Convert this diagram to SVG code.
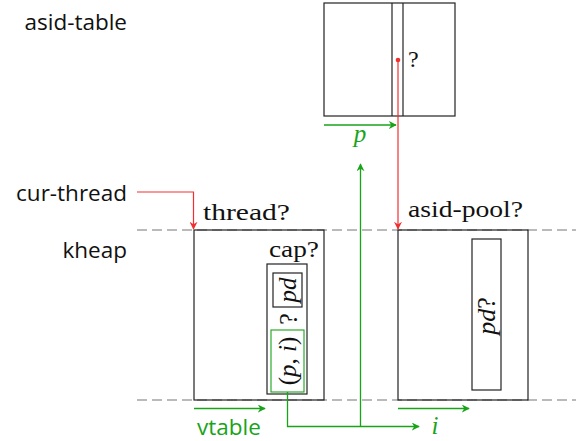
<svg xmlns="http://www.w3.org/2000/svg" width="581" height="441" viewBox="0 0 581 441">
<defs>
<style>
.box{fill:none;stroke:#222;stroke-width:1.2}
.dash{stroke:#777;stroke-width:1.2;stroke-dasharray:10 5;fill:none}
.g{stroke:#19a319;stroke-width:1.3;fill:none}
.r{stroke:#f03030;stroke-width:1.2;fill:none}
.sans{font-family:"Open Sans","Liberation Sans",sans-serif;font-size:22.5px;fill:#111}
.serif{font-family:"Liberation Serif",serif;font-size:24px;fill:#111}
.math{font-family:"Liberation Serif",serif;font-style:italic;font-size:25px}
</style>
<marker id="ag" viewBox="0 0 10 10" refX="9" refY="5" markerWidth="8" markerHeight="8" markerUnits="userSpaceOnUse" orient="auto">
<path d="M0,0 L10,5 L0,10 L3,5 Z" fill="#19a319"/>
</marker>
<marker id="ar" viewBox="0 0 10 10" refX="9" refY="5" markerWidth="8" markerHeight="8" markerUnits="userSpaceOnUse" orient="auto">
<path d="M0,0 L10,5 L0,10 L3,5 Z" fill="#f03030"/>
</marker>
</defs>

<g id="labels">
<text class="sans" x="127" y="30" text-anchor="end">asid-table</text>
<text class="sans" x="127" y="201" text-anchor="end">cur-thread</text>
<text class="sans" x="127" y="258" text-anchor="end">kheap</text>
</g>

<g id="guides">
<line class="dash" x1="137" y1="230" x2="576" y2="230"/>
<line class="dash" x1="137" y1="400" x2="576" y2="400"/>
</g>

<g id="asid-table">
<rect class="box" x="324" y="3" width="131" height="113"/>
<line class="box" x1="392" y1="3" x2="392" y2="116"/>
<line class="box" x1="403" y1="3" x2="403" y2="116"/>
<text class="serif" x="408" y="67">?</text>
</g>

<g id="thread">
<rect class="box" x="194" y="230" width="130" height="170"/>
<text class="serif" x="203" y="220" textLength="87" lengthAdjust="spacingAndGlyphs">thread?</text>
<text class="serif" x="269" y="257" textLength="50" lengthAdjust="spacingAndGlyphs">cap?</text>
<g id="cap">
<rect class="box" x="267" y="264" width="40" height="130"/>
<rect class="box" x="273" y="273" width="29" height="34" stroke-width="1"/>
<text class="math" transform="translate(296,290) rotate(-90)" text-anchor="middle" fill="#111">pd</text>
<text class="serif" transform="translate(297,319) rotate(-90)" text-anchor="middle" style="font-size:26px">?</text>
<rect x="271" y="330" width="33" height="62" fill="none" stroke="#19a319" stroke-width="1.1"/>
<text transform="translate(296,361) rotate(-90)" text-anchor="middle" style="font-family:'Liberation Serif',serif;font-size:25px;fill:#111"><tspan>(</tspan><tspan font-style="italic">p</tspan><tspan>, </tspan><tspan font-style="italic">i</tspan><tspan>)</tspan></text>
</g>
</g>

<g id="asid-pool">
<rect class="box" x="398" y="230" width="130" height="170"/>
<text class="serif" x="408" y="217" textLength="115" lengthAdjust="spacingAndGlyphs">asid-pool?</text>
<rect class="box" x="472" y="239" width="29" height="151" stroke-width="1"/>
<text transform="translate(495,316) rotate(-90)" text-anchor="middle" style="font-family:'Liberation Serif',serif;font-size:26px;fill:#111"><tspan font-style="italic">pd</tspan>?</text>
</g>

<g id="connectors">
<polyline class="r" points="137,192 193.5,192 193.5,229" marker-end="url(#ar)"/>
<line class="r" x1="398" y1="60" x2="398" y2="229" marker-end="url(#ar)"/>
<circle cx="398" cy="60" r="2.3" fill="#f03030"/>
<line class="g" x1="324" y1="125" x2="396" y2="125" marker-end="url(#ag)"/>
<text x="360" y="142" text-anchor="middle" style="font-family:'Liberation Serif',serif;font-style:italic;font-size:25px;fill:#19a319">p</text>
<line class="g" x1="360.5" y1="426.5" x2="360.5" y2="164" marker-end="url(#ag)"/>
<polyline class="g" points="287.5,392 287.5,426.5 419,426.5" marker-end="url(#ag)"/>
<text x="435" y="434" text-anchor="middle" style="font-family:'Liberation Serif',serif;font-style:italic;font-size:25px;fill:#19a319">i</text>
<line class="g" x1="194" y1="408.5" x2="265" y2="408.5" marker-end="url(#ag)"/>
<line class="g" x1="398" y1="408.5" x2="469" y2="408.5" marker-end="url(#ag)"/>
<text x="197" y="435" style="font-family:'Open Sans','Liberation Sans',sans-serif;font-size:22.5px;fill:#19a319">vtable</text>
</g>
</svg>
